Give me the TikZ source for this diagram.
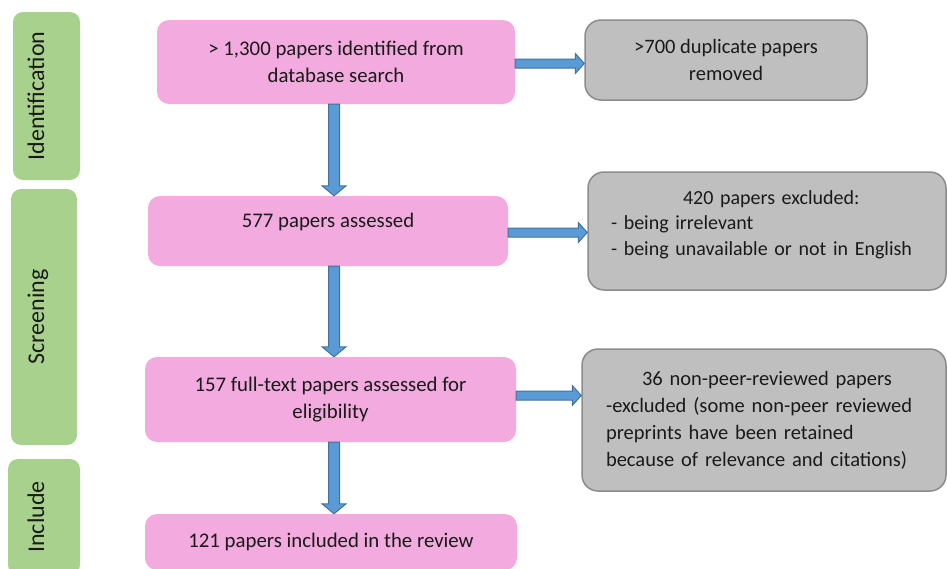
\documentclass[tikz,border=0pt]{standalone}
\usepackage{fontspec}
\setmainfont{Carlito}
\usetikzlibrary{calc}
\definecolor{pinkfill}{HTML}{F3AADE}
\definecolor{greenfill}{HTML}{A9D18E}
\definecolor{grayfill}{HTML}{BFBFBF}
\definecolor{grayline}{HTML}{8C8C8C}
\definecolor{bluefill}{HTML}{5B9BD5}
\definecolor{blueline}{HTML}{41719C}
\definecolor{txtcol}{HTML}{1A1A1A}
\newcommand\blockdown[3]{%
  \draw[barrow] let \p1=(#1.south -| #3), \p2=(#2.north -| #3) in
    (\x1-5.5pt,\y1) -- (\x1+5.5pt,\y1) -- (\x1+5.5pt,\y2+10pt) -- (\x1+12pt,\y2+10pt)
    -- (\x1,\y2) -- (\x1-12pt,\y2+10pt) -- (\x1-5.5pt,\y2+10pt) -- cycle;}
\newcommand\blockright[3]{%
  \draw[barrow] let \p1=([yshift=#3]#1.east), \p2=(#2.west) in
    (\x1,\y1+4.5pt) -- (\x2-9pt,\y1+4.5pt) -- (\x2-9pt,\y1+10pt) -- (\x2,\y1)
    -- (\x2-9pt,\y1-10pt) -- (\x2-9pt,\y1-4.5pt) -- (\x1,\y1-4.5pt) -- cycle;}
\tikzset{
  pinkbox/.style={rectangle, rounded corners=12pt, fill=pinkfill, draw=none,
    align=center, font=\fontsize{20.8}{27}\selectfont, text=txtcol, inner sep=0pt},
  graybox/.style={rectangle, rounded corners=16pt, fill=grayfill, draw=grayline,
    line width=1.5pt, align=center, font=\fontsize{20.5}{27}\selectfont, text=txtcol, inner sep=0pt},
  stagebox/.style={rectangle, rounded corners=10pt, fill=greenfill, draw=none, rotate=90,
    font=\fontsize{24}{27}\selectfont, text=txtcol, inner sep=0pt},
  barrow/.style={fill=bluefill, draw=blueline, line width=1pt, line join=miter},
}
\begin{document}
\begin{tikzpicture}[x=1pt, y=-1pt]
\useasboundingbox (0,0) rectangle (947,568);
\clip (0,0) rectangle (947,568);

% stage labels
\node[stagebox, minimum width=168pt, minimum height=67pt, text height=10pt, text depth=15pt]
  (s1) at (46.5,96) {Identification};
\node[stagebox, minimum width=256pt, minimum height=66pt, text height=10pt, text depth=10pt]
  (s2) at (44,317) {Screening};
\node[stagebox, minimum width=116pt, minimum height=72pt, text height=10pt, text depth=10pt]
  (s3) at (44,517) {Include};

% main flow
\node[pinkbox, minimum width=358pt, minimum height=84pt] (p1) at (336,62)
  {> 1,300 papers identified from\\database search};
\node[pinkbox, minimum width=360pt, minimum height=70pt, text height=14pt, text depth=22pt]
  (p2) at (328,231) {577 papers assessed};
\node[pinkbox, minimum width=371pt, minimum height=85pt] (p3) at (330.5,399.5)
  {157 full-text papers assessed for\\eligibility};
\node[pinkbox, minimum width=372pt, minimum height=56pt] (p4) at (331,542)
  {121 papers included in the review};

% exclusions
\node[graybox, minimum width=282pt, minimum height=80pt] (g1) at (726,60)
  {>700 duplicate papers\\removed};
\node[graybox, minimum width=358pt, minimum height=118pt, text width=312pt, align=left,
  font=\fontsize{20}{25.5}\selectfont, text height=14pt, text depth=68pt] (g2) at (767,231)
  {\hspace*{72pt}420 papers excluded:\\- being irrelevant\\- being unavailable or not in English};
\node[graybox, minimum width=364pt, minimum height=142pt, text width=316pt, align=left]
  (g3) at (764,420)
  {\hspace*{36pt}36 non-peer-reviewed papers\\-excluded (some non-peer reviewed\\preprints have been retained\\because of relevance and citations)};

% arrows
\coordinate (ax) at (334,0);
\blockdown{p1}{p2}{ax}
\blockdown{p2}{p3}{ax}
\blockdown{p3}{p4}{ax}
\blockright{p1}{g1}{-1.5pt}
\blockright{p2}{g2}{-1.5pt}
\blockright{p3}{g3}{4pt}
\end{tikzpicture}
\end{document}
